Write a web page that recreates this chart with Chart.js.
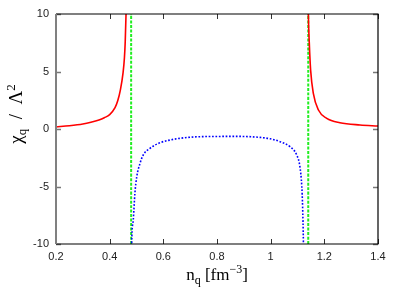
<!DOCTYPE html>
<html>
<head>
<meta charset="utf-8">
<script src="https://cdn.jsdelivr.net/npm/chart.js@4/dist/chart.umd.min.js"></script>
<style>
html,body{margin:0;padding:0;background:#fff;}
#wrap{width:403px;height:290px;position:relative;}
</style>
</head>
<body>
<div id="wrap"><canvas id="c" width="403" height="290"></canvas></div>
<script>
// ---- data ----
const redLeftX  = [0.20, 0.25, 0.30, 0.33, 0.36, 0.38, 0.40, 0.42, 0.43, 0.44, 0.45, 0.455, 0.458, 0.461, 0.463];
const redLeftY  = [0.18, 0.28, 0.43, 0.58, 0.78, 0.98, 1.25, 1.85, 2.45, 3.4, 4.9, 6.2, 7.6, 10.0, 12.0];
const redRightX = [1.1395, 1.1405, 1.144, 1.149, 1.159, 1.178, 1.209, 1.258, 1.333, 1.400];
const redRightY = [12.0, 10.0, 7.45, 5.1, 3.1, 1.65, 0.93, 0.55, 0.35, 0.26];
const blueX = [0.481, 0.482, 0.488, 0.494, 0.501, 0.513, 0.525, 0.550, 0.588, 0.625, 0.662, 0.724, 0.80, 0.85, 0.90, 0.960, 0.998, 1.035, 1.072, 1.097, 1.109, 1.116, 1.119, 1.122, 1.123];
const blueY = [-12.0, -9.94, -7.9, -5.6, -4.15, -3.0, -2.26, -1.68, -1.19, -0.96, -0.81, -0.68, -0.65, -0.64, -0.65, -0.73, -0.85, -1.1, -1.54, -2.26, -3.28, -5.0, -6.74, -9.94, -12.0];
const greenX = [0.48, 1.14];
const yRangeMin = -10, yRangeMax = 10;
const xTickLabels = ['0.2', '0.4', '0.6', '0.8', '1', '1.2', '1.4'];
const yTickLabels = ['-10', '-5', '0', '5', '10'];

const pts = (xs, ys) => xs.map((x, i) => ({x: x, y: ys[i]}));

const datasets = [
  {data: pts(redLeftX, redLeftY), borderColor: '#ff0000', borderWidth: 1.6},
  {data: pts(redRightX, redRightY), borderColor: '#ff0000', borderWidth: 1.6},
  {data: pts(blueX, blueY), borderColor: '#0000ff', borderWidth: 1.6, borderDash: [1.7, 1.7]},
  {data: pts([greenX[0], greenX[0]], [yRangeMin, yRangeMax]), borderColor: '#22ee22', borderWidth: 2, borderDash: [3, 1.5]},
  {data: pts([greenX[1], greenX[1]], [yRangeMin, yRangeMax]), borderColor: '#22ee22', borderWidth: 2, borderDash: [3, 1.5]}
].map(d => Object.assign({showLine: true, pointRadius: 0, fill: false, tension: 0.3, cubicInterpolationMode: 'monotone'}, d));

function drawRich(ctx, segs, baseFont, smallFont) {
  let total = 0;
  segs.forEach(s => { ctx.font = s.t === 'n' ? baseFont : smallFont; s.w = ctx.measureText(s.s).width; total += s.w; });
  let x = -total / 2;
  segs.forEach(s => {
    ctx.font = s.t === 'n' ? baseFont : smallFont;
    const dy = s.t === 'sub' ? 4 : (s.t === 'sup' ? -7 : 0);
    ctx.fillText(s.s, x, dy);
    x += s.w;
  });
}

const framePlugin = {
  id: 'frame',
  afterDraw(chart) {
    const {ctx, chartArea: a, scales} = chart;
    ctx.save();
    ctx.strokeStyle = '#333';
    ctx.lineWidth = 1;
    const tl = 5;
    scales.x.ticks.forEach(t => {
      const px = Math.round(scales.x.getPixelForValue(t.value)) + 0.5;
      ctx.beginPath();
      ctx.moveTo(px, a.bottom); ctx.lineTo(px, a.bottom - tl);
      ctx.moveTo(px, a.top); ctx.lineTo(px, a.top + tl);
      ctx.stroke();
    });
    ctx.strokeStyle = '#777';
    ctx.lineWidth = 1.5;
    scales.y.ticks.forEach(t => {
      const py = Math.round(scales.y.getPixelForValue(t.value)) + 0.5;
      ctx.beginPath();
      ctx.moveTo(a.left, py); ctx.lineTo(a.left + tl, py);
      ctx.moveTo(a.right, py); ctx.lineTo(a.right - tl, py);
      ctx.stroke();
    });
    ctx.strokeStyle = '#000';
    ctx.lineWidth = 1.2;
    ctx.beginPath();
    ctx.moveTo(a.left, a.top); ctx.lineTo(a.right, a.top); ctx.lineTo(a.right, a.bottom); ctx.lineTo(a.left, a.bottom);
    ctx.stroke();
    ctx.strokeStyle = '#808080';
    ctx.lineWidth = 2;
    ctx.beginPath();
    ctx.moveTo(a.left, a.top); ctx.lineTo(a.left, a.bottom);
    ctx.stroke();
    ctx.fillStyle = '#000';
    ctx.textBaseline = 'alphabetic';
    ctx.textAlign = 'left';
    const bf = '17px "Liberation Serif", "Times New Roman", serif';
    const sf = '12px "Liberation Serif", "Times New Roman", serif';
    ctx.save();
    ctx.translate((a.left + a.right) / 2, 280);
    drawRich(ctx, [{s: 'n', t: 'n'}, {s: 'q', t: 'sub'}, {s: ' [fm', t: 'n'}, {s: '\u22123', t: 'sup'}, {s: ']', t: 'n'}], bf, sf);
    ctx.restore();
    ctx.save();
    ctx.translate(22, 114);
    ctx.rotate(-Math.PI / 2);
    const bf2 = '19px "Liberation Serif", "Times New Roman", serif';
    const sf2 = '13px "Liberation Serif", "Times New Roman", serif';
    drawRich(ctx, [{s: '\u03c7', t: 'n'}, {s: 'q', t: 'sub'}, {s: '  /  \u039b', t: 'n'}, {s: '2', t: 'sup'}], bf2, sf2);
    ctx.restore();
    ctx.restore();
  }
};

new Chart(document.getElementById('c'), {
  type: 'scatter',
  data: {datasets: datasets},
  options: {
    responsive: false,
    animation: false,
    layout: {padding: {top: 14, right: 25, left: 0, bottom: 0}},
    plugins: {legend: {display: false}, tooltip: {enabled: false}},
    scales: {
      x: {
        type: 'linear', min: 0.2, max: 1.4,
        afterFit: s => { s.height = 46; },
        grid: {display: false, drawTicks: false},
        border: {display: false},
        ticks: {stepSize: 0.2, padding: 6, color: '#222', font: {family: '"Liberation Sans", Arial, sans-serif', size: 11},
          callback: (v, i) => xTickLabels[i], maxRotation: 0, autoSkip: false}
      },
      y: {
        type: 'linear', min: yRangeMin, max: yRangeMax,
        afterFit: s => { s.width = 56; },
        grid: {display: false, drawTicks: false},
        border: {display: false},
        ticks: {stepSize: 5, padding: 7, color: '#222', font: {family: '"Liberation Sans", Arial, sans-serif', size: 11},
          callback: (v, i) => yTickLabels[i], autoSkip: false}
      }
    }
  },
  plugins: [framePlugin]
});
</script>
</body>
</html>
